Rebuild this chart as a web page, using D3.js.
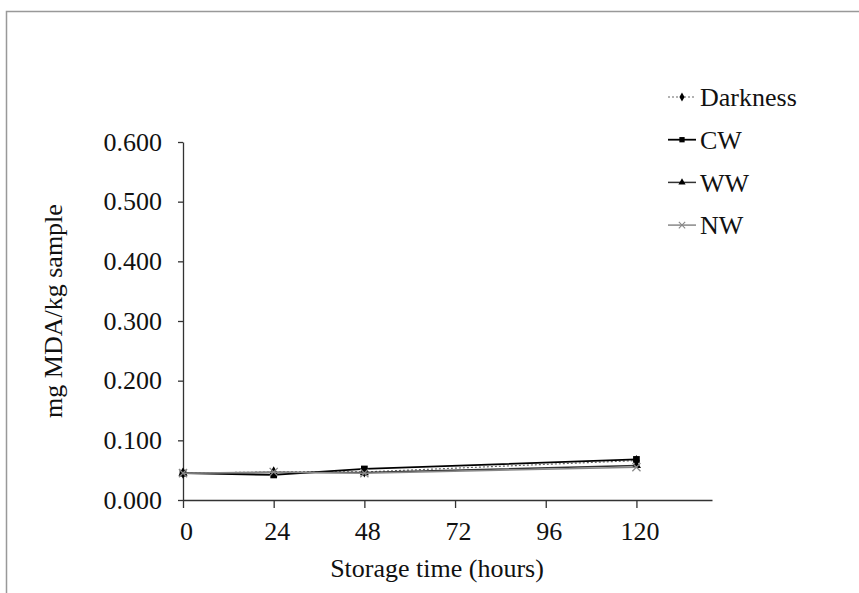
<!DOCTYPE html>
<html>
<head>
<meta charset="utf-8">
<script src="https://cdn.jsdelivr.net/npm/d3@7"></script>
<style>
  body { margin: 0; background: #fff; }
  svg text { font-family: "Liberation Serif", "Times New Roman", serif; fill: #111; }
</style>
</head>
<body>
<div id="GraphHolder"></div>
<script>
// data
var hours = [0, 24, 48, 120];
var darkness = [0.045, 0.047, 0.047, 0.066];
var cw = [0.045, 0.042, 0.052, 0.068];
var ww = [0.045, 0.046, 0.046, 0.058];
var nw = [0.045, 0.047, 0.045, 0.055];
var xTicks = [0, 24, 48, 72, 96, 120];
var yTicks = [0, 0.1, 0.2, 0.3, 0.4, 0.5, 0.6];

var series = [
  {name: "Darkness", values: darkness, color: "#666", dash: "2,2", width: 1.2, symbol: "diamond"},
  {name: "CW", values: cw, color: "#000", dash: null, width: 1.8, symbol: "square"},
  {name: "WW", values: ww, color: "#333", dash: null, width: 1.5, symbol: "triangle"},
  {name: "NW", values: nw, color: "#888", dash: null, width: 1.5, symbol: "cross"}
];

var W = 859, H = 593;
var margin = {top: 142, right: 147, bottom: 93, left: 183},
    width = W - margin.left - margin.right,
    height = H - margin.top - margin.bottom;

var root = d3.select("#GraphHolder").append("svg")
    .attr("width", W)
    .attr("height", H);

// outer frame
root.append("rect")
    .attr("x", 6.5).attr("y", 11.5)
    .attr("width", W).attr("height", H)
    .attr("fill", "none")
    .attr("stroke", "#999")
    .attr("stroke-width", 1.5);

var svg = root.append("g")
    .attr("transform", "translate(" + margin.left + "," + margin.top + ")");

var x = d3.scaleLinear().domain([0, 140]).range([0, width]);
var y = d3.scaleLinear().domain([0, 0.6]).range([height, 0]);

var xAxis = d3.axisBottom(x).tickValues(xTicks).tickSize(8).tickSizeOuter(0);
var yAxis = d3.axisLeft(y).tickValues(yTicks).tickSize(5).tickSizeOuter(0)
    .tickFormat(d3.format(".3f"));

svg.append("g")
    .attr("class", "xaxis")
    .attr("transform", "translate(0," + height + ")")
    .call(xAxis)
    .call(function(g) {
      g.select(".domain").attr("stroke", "#333").attr("stroke-width", 1.3);
      g.selectAll(".tick line").attr("stroke", "#333").attr("stroke-width", 1.3);
      g.selectAll("text").attr("font-size", 26).attr("y", 22).attr("dx", 3).attr("dy", "0.71em");
    });

svg.append("g")
    .attr("class", "yaxis")
    .call(yAxis)
    .call(function(g) {
      g.select(".domain").attr("stroke", "#333").attr("stroke-width", 1.3);
      g.selectAll(".tick line").attr("stroke", "#333").attr("stroke-width", 1.3);
      g.selectAll("text").attr("font-size", 26).attr("x", -21);
    });

// axis titles
svg.append("text")
    .attr("x", 437 - margin.left)
    .attr("y", 577 - margin.top)
    .attr("text-anchor", "middle")
    .attr("font-size", 26)
    .text("Storage time (hours)");

root.append("text")
    .attr("transform", "translate(62,311) rotate(-90)")
    .attr("text-anchor", "middle")
    .attr("font-size", 26)
    .text("mg MDA/kg sample");

var line = d3.line()
    .x(function(d, i) { return x(hours[i]); })
    .y(function(d) { return y(d); });

function symbolPath(kind, size) {
  if (kind === "diamond") return d3.symbol().type(d3.symbolDiamond).size(size * 0.8)();
  if (kind === "square") return d3.symbol().type(d3.symbolSquare).size(size)();
  if (kind === "triangle") return d3.symbol().type(d3.symbolTriangle).size(size * 0.8)();
  return d3.symbol().type(d3.symbolX).size(size)();
}

series.forEach(function(s) {
  svg.append("path")
      .datum(s.values)
      .attr("fill", "none")
      .attr("stroke", s.color)
      .attr("stroke-width", s.width)
      .attr("stroke-dasharray", s.dash)
      .attr("d", line);

  svg.selectAll(".pt-" + s.name)
      .data(s.values)
      .enter().append("path")
      .attr("class", "pt-" + s.name)
      .attr("transform", function(d, i) { return "translate(" + x(hours[i]) + "," + y(d) + ")"; })
      .attr("d", symbolPath(s.symbol, 45))
      .attr("fill", s.symbol === "cross" ? "none" : "#000")
      .attr("stroke", s.symbol === "cross" ? s.color : "none")
      .attr("stroke-width", 1.3);
});

// legend
var legend = root.append("g").attr("transform", "translate(668,97)");
series.forEach(function(s, i) {
  var g = legend.append("g").attr("transform", "translate(0," + (i * 42.7) + ")");
  g.append("line")
      .attr("x1", 0).attr("x2", 28)
      .attr("stroke", s.color)
      .attr("stroke-width", s.width)
      .attr("stroke-dasharray", s.dash);
  g.append("path")
      .attr("transform", "translate(14,0)")
      .attr("d", symbolPath(s.symbol, 28))
      .attr("fill", s.symbol === "cross" ? "none" : "#000")
      .attr("stroke", s.symbol === "cross" ? s.color : "none")
      .attr("stroke-width", 1.1);
  g.append("text")
      .attr("x", 32)
      .attr("y", 0)
      .attr("dy", "0.35em")
      .attr("font-size", 26)
      .text(s.name);
});
</script>
</body>
</html>
